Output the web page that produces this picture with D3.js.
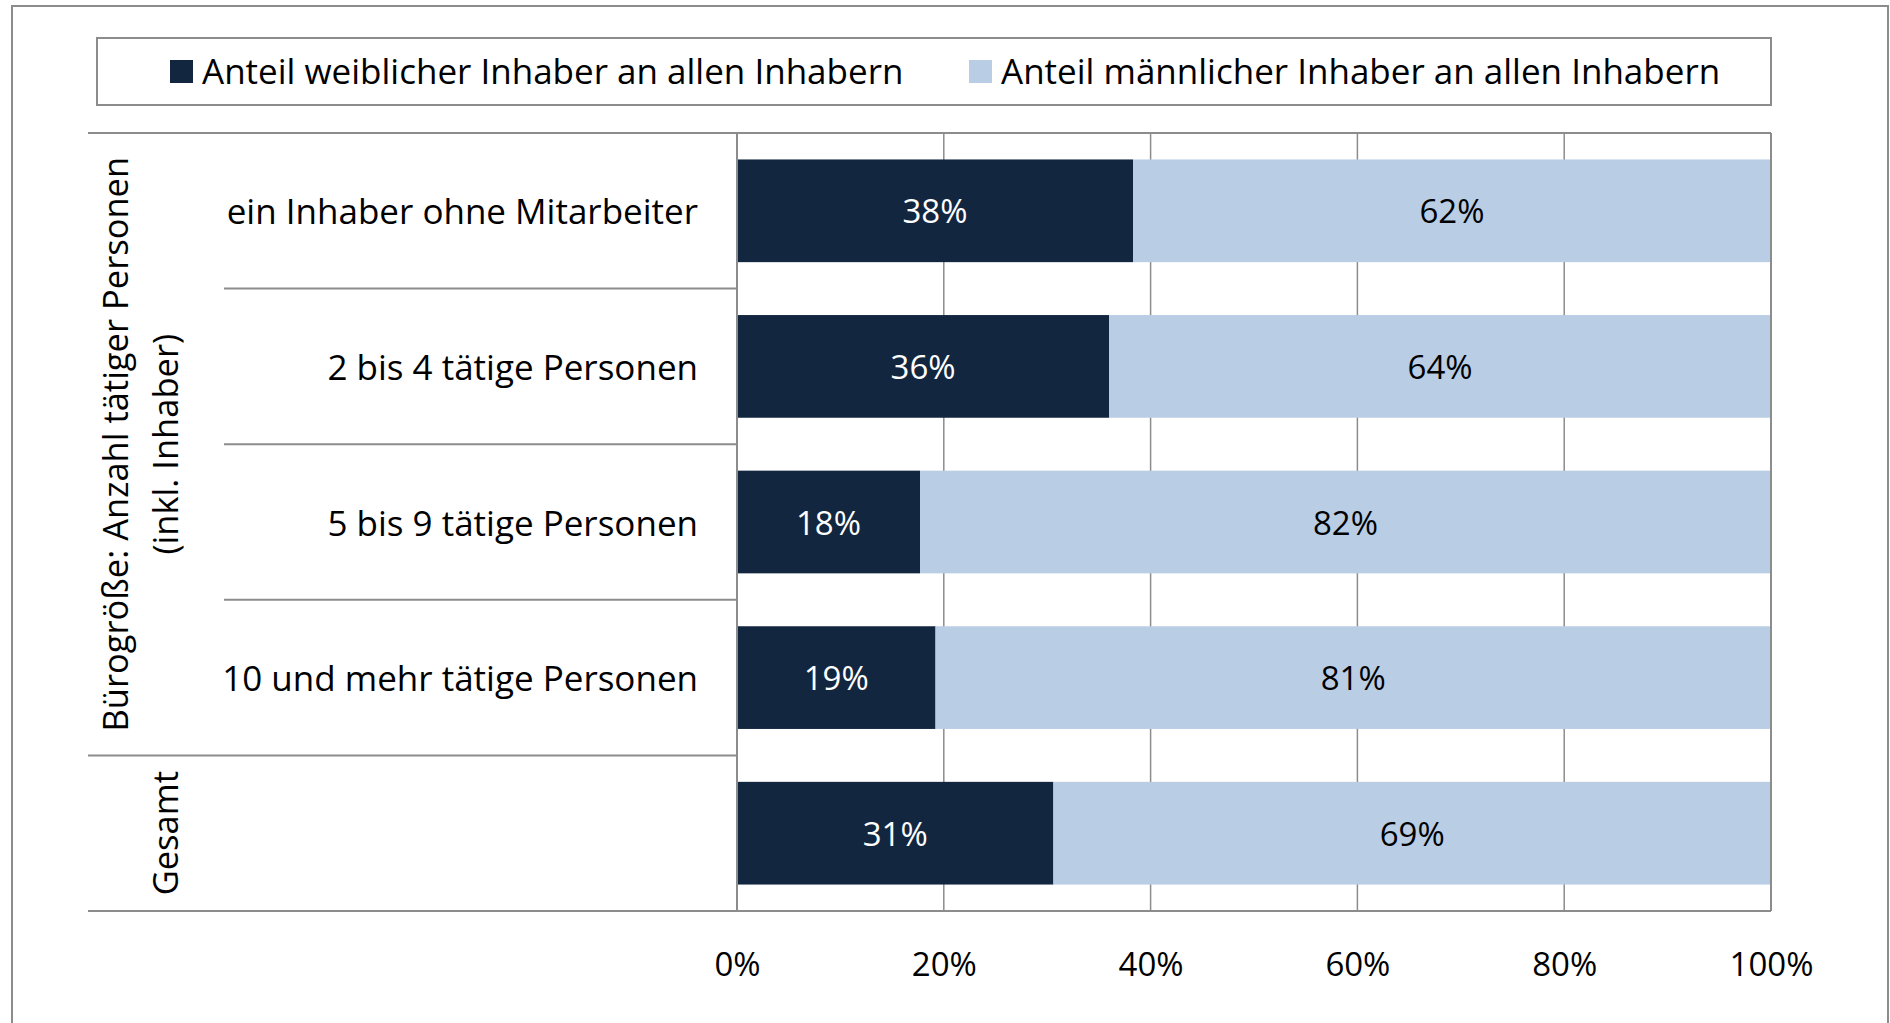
<!DOCTYPE html>
<html>
<head>
<meta charset="utf-8">
<script src="https://cdn.jsdelivr.net/npm/d3@7"></script>
<style>
  html, body { margin: 0; padding: 0; background: #fff; }
  svg { display: block; font-family: "Open Sans", "Noto Sans", sans-serif; }
</style>
</head>
<body>
<svg id="chart" width="1890" height="1023"></svg>
<script>
// data (share in percent)
const rowIds = ["r1", "r2", "r3", "r4", "total"];
const rowLabels = ["ein Inhaber ohne Mitarbeiter", "2 bis 4 tätige Personen", "5 bis 9 tätige Personen", "10 und mehr tätige Personen", ""];
const femaleShare = [38.3, 36.0, 17.7, 19.2, 30.6];
const maleShare = [61.7, 64.0, 82.3, 80.8, 69.4];
const seriesNames = ["Anteil weiblicher Inhaber an allen Inhabern", "Anteil männlicher Inhaber an allen Inhabern"];
const xTicks = [0, 20, 40, 60, 80, 100];
const groupLabels = [["Bürogröße: Anzahl tätiger Personen", "(inkl. Inhaber)"], ["Gesamt"]];
const groupRows = [["r1", "r2", "r3", "r4"], ["total"]];

document.addEventListener("DOMContentLoaded", function () {
    const svg = d3.select("#chart");
    const dark = "#12263f";
    const light = "#b9cde5";
    const lineColor = "#8c8c8c";
    const fontSize = 33;
    const labelSize = 35;

    const plot = { left: 737, right: 1771, top: 133, bottom: 911 };
    const labelLeft = 88;

    const x = d3.scaleLinear().domain([0, 100]).range([plot.left, plot.right]);
    const y = d3.scaleBand().domain(rowIds).range([plot.top, plot.bottom])
        .paddingInner(0.34).paddingOuter(0.17);
    const color = d3.scaleOrdinal().domain(seriesNames).range([dark, light]);

    // outer frame
    svg.append("rect")
        .attr("x", 12).attr("y", 6)
        .attr("width", 1876).attr("height", 1040)
        .attr("fill", "none").attr("stroke", lineColor).attr("stroke-width", 2);

    // legend
    const legend = svg.append("g");
    legend.append("rect")
        .attr("x", 97).attr("y", 38).attr("width", 1674).attr("height", 67)
        .attr("fill", "#fff").attr("stroke", lineColor).attr("stroke-width", 2);
    const legendX = [170, 969];
    seriesNames.forEach((name, i) => {
        legend.append("rect")
            .attr("x", legendX[i]).attr("y", 60).attr("width", 23).attr("height", 23)
            .attr("fill", color(name));
        legend.append("text")
            .attr("x", legendX[i] + 32).attr("y", 70)
            .attr("dominant-baseline", "central")
            .attr("font-size", labelSize).attr("fill", "#000")
            .text(name);
    });

    // vertical gridlines
    svg.append("g").selectAll("line")
        .data(xTicks.filter(t => t > 0 && t < 100))
        .join("line")
        .attr("x1", d => x(d)).attr("x2", d => x(d))
        .attr("y1", plot.top).attr("y2", plot.bottom)
        .attr("stroke", lineColor).attr("stroke-width", 1.5);

    // stacked bars
    const rows = rowIds.map((id, i) => ({ id, values: [femaleShare[i], maleShare[i]] }));
    const fmt = v => Math.round(v) + "%";
    const bars = svg.append("g");
    rows.forEach(row => {
        let acc = 0;
        row.values.forEach((v, s) => {
            const x0 = acc, x1 = acc + v;
            acc = x1;
            bars.append("rect")
                .attr("x", x(x0)).attr("y", y(row.id))
                .attr("width", x(x1) - x(x0)).attr("height", y.bandwidth())
                .attr("fill", color(seriesNames[s]));
            bars.append("text")
                .attr("x", (x(x0) + x(x1)) / 2)
                .attr("y", y(row.id) + y.bandwidth() / 2)
                .attr("text-anchor", "middle").attr("dominant-baseline", "central")
                .attr("font-size", fontSize)
                .attr("fill", s === 0 ? "#fff" : "#000")
                .text(fmt(v));
        });
    });

    // frame lines of the plot and label area
    const frame = svg.append("g").attr("stroke", lineColor).attr("stroke-width", 2);
    frame.append("line").attr("x1", labelLeft).attr("x2", plot.right).attr("y1", plot.top).attr("y2", plot.top);
    frame.append("line").attr("x1", labelLeft).attr("x2", plot.right).attr("y1", plot.bottom).attr("y2", plot.bottom);
    frame.append("line").attr("x1", plot.left).attr("x2", plot.left).attr("y1", plot.top).attr("y2", plot.bottom);
    frame.append("line").attr("x1", plot.right).attr("x2", plot.right).attr("y1", plot.top).attr("y2", plot.bottom);

    // separators between rows inside a group and between groups
    const step = y.step();
    groupRows.forEach((ids, g) => {
        const gTop = y(ids[0]) - y.paddingOuter() * step;
        const gBottom = gTop + ids.length * step;
        ids.slice(1).forEach(id => {
            const yy = y(id) - y.paddingInner() * step / 2;
            frame.append("line").attr("x1", 224).attr("x2", plot.left).attr("y1", yy).attr("y2", yy);
        });
        if (g < groupRows.length - 1) {
            frame.append("line").attr("x1", labelLeft).attr("x2", plot.left).attr("y1", gBottom).attr("y2", gBottom);
        }
        // rotated group label, last line aligned at x = 164
        const lines = groupLabels[g];
        const cy = (gTop + gBottom) / 2;
        lines.forEach((ln, k) => {
            const lx = 164 - (lines.length - 1 - k) * 50;
            svg.append("text")
                .attr("transform", `translate(${lx},${cy}) rotate(-90)`)
                .attr("text-anchor", "middle").attr("dominant-baseline", "central")
                .attr("font-size", 34.5).attr("fill", "#000")
                .text(ln);
        });
    });

    // category labels
    svg.append("g").selectAll("text")
        .data(rowIds.map((id, i) => ({ id, label: rowLabels[i] })))
        .join("text")
        .attr("x", 698)
        .attr("y", d => y(d.id) + y.bandwidth() / 2)
        .attr("text-anchor", "end").attr("dominant-baseline", "central")
        .attr("font-size", labelSize).attr("fill", "#000")
        .text(d => d.label);

    // x axis tick labels
    const xAxis = d3.axisBottom(x).tickValues(xTicks).tickFormat(d => d + "%").tickSize(0).tickPadding(0);
    const axisG = svg.append("g")
        .attr("transform", `translate(0, ${plot.bottom})`)
        .call(xAxis);
    axisG.select(".domain").remove();
    axisG.selectAll("text")
        .attr("font-family", "\"Open Sans\", sans-serif")
        .attr("font-size", fontSize).attr("fill", "#000")
        .attr("dy", null).attr("y", 52)
        .attr("dominant-baseline", "central");
});
</script>
</body>
</html>
